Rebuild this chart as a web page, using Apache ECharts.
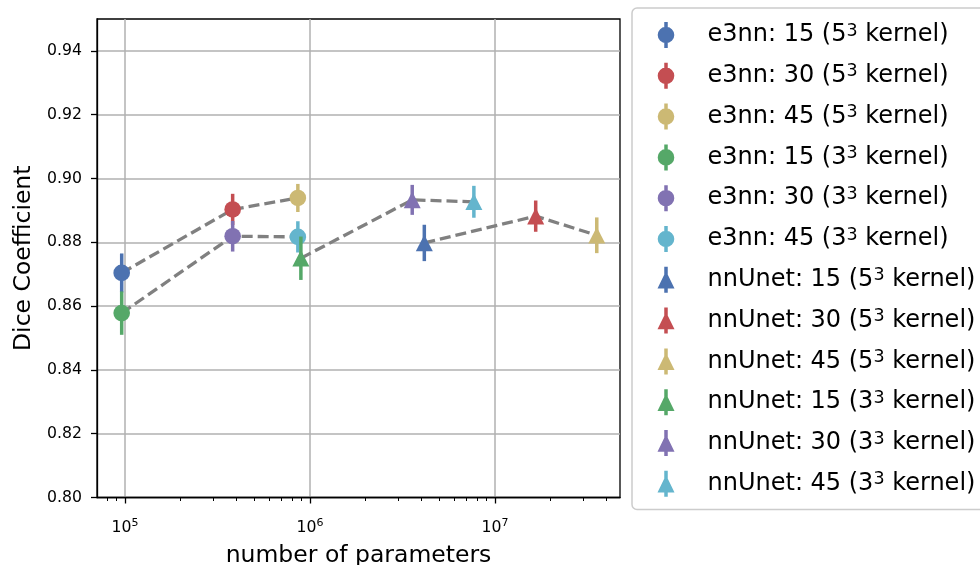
<!DOCTYPE html>
<html>
<head>
<meta charset="utf-8">
<script src="https://cdn.jsdelivr.net/npm/echarts@6/dist/echarts.min.js"></script>
<style>
html,body{margin:0;padding:0;background:#fff;}
#chart{width:980px;height:565px;}
</style>
</head>
<body>
<div id="chart"></div>
<script>
// ---- data ----
const e3nn5Params = [96000, 382000, 860000];
const e3nn5Dice   = [0.8704, 0.8903, 0.8939];
const e3nn5Err    = [0.0061, 0.0049, 0.0044];

const e3nn3Params = [96000, 382000, 860000];
const e3nn3Dice   = [0.8578, 0.8819, 0.8817];
const e3nn3Err    = [0.0068, 0.0048, 0.0049];

const nnUnet5Params = [4150000, 16600000, 35500000];
const nnUnet5Dice   = [0.8798, 0.8882, 0.8822];
const nnUnet5Err    = [0.0057, 0.0049, 0.0056];

const nnUnet3Params = [893000, 3570000, 7690000];
const nnUnet3Dice   = [0.8750, 0.8933, 0.8927];
const nnUnet3Err    = [0.0068, 0.0047, 0.0050];

const seriesNames = [
  'e3nn: 15 (5³ kernel)', 'e3nn: 30 (5³ kernel)', 'e3nn: 45 (5³ kernel)',
  'e3nn: 15 (3³ kernel)', 'e3nn: 30 (3³ kernel)', 'e3nn: 45 (3³ kernel)',
  'nnUnet: 15 (5³ kernel)', 'nnUnet: 30 (5³ kernel)', 'nnUnet: 45 (5³ kernel)',
  'nnUnet: 15 (3³ kernel)', 'nnUnet: 30 (3³ kernel)', 'nnUnet: 45 (3³ kernel)'
];

const yTicks = [0.80, 0.82, 0.84, 0.86, 0.88, 0.90, 0.92, 0.94];
const xMajorTicks = [1e5, 1e6, 1e7];
const xMinorTicks = [8e4, 9e4, 2e5, 3e5, 4e5, 5e5, 6e5, 7e5, 8e5, 9e5,
                     2e6, 3e6, 4e6, 5e6, 6e6, 7e6, 8e6, 9e6, 2e7, 3e7, 4e7];
const xMin = 70600, xMax = 47400000;
const yMin = 0.80, yMax = 0.95;

// ---- styling ----
const palette = ['#4C72B0', '#C44E52', '#CCB974', '#55A868', '#8172B2', '#64B5CD'];
const FONT = '"DejaVu Sans", sans-serif';
const circleIcon = 'path://M10,4.7A8.3,8.3,0,1,1,9.99,4.7ZM8.25,0L11.75,0L11.75,26L8.25,26Z';
const triIcon = 'path://M10,4.3L18.5,21.7L1.5,21.7ZM8.25,0L11.75,0L11.75,26L8.25,26Z';

const groups = [
  {x: e3nn5Params, y: e3nn5Dice, e: e3nn5Err, shape: 'circle', colors: [0, 1, 2], names: [0, 1, 2]},
  {x: e3nn3Params, y: e3nn3Dice, e: e3nn3Err, shape: 'circle', colors: [3, 4, 5], names: [3, 4, 5]},
  {x: nnUnet5Params, y: nnUnet5Dice, e: nnUnet5Err, shape: 'triangle', colors: [0, 1, 2], names: [6, 7, 8]},
  {x: nnUnet3Params, y: nnUnet3Dice, e: nnUnet3Err, shape: 'triangle', colors: [3, 4, 5], names: [9, 10, 11]}
];

function makeRender(shape, color) {
  return function (params, api) {
    const x = api.value(0), y = api.value(1), e = api.value(2);
    const p = api.coord([x, y]);
    const t = api.coord([x, y + e]);
    const b = api.coord([x, y - e]);
    const children = [{
      type: 'line',
      shape: {x1: p[0], y1: t[1], x2: p[0], y2: b[1]},
      style: {stroke: color, lineWidth: 3.5}
    }];
    if (shape === 'circle') {
      children.push({type: 'circle', shape: {cx: p[0], cy: p[1], r: 8.3}, style: {fill: color}});
    } else {
      children.push({type: 'polygon',
        shape: {points: [[p[0], p[1] - 8.3], [p[0] - 8.5, p[1] + 8.3], [p[0] + 8.5, p[1] + 8.3]]},
        style: {fill: color}});
    }
    return {type: 'group', children: children};
  };
}

const series = [];
// dashed connecting lines
groups.forEach(function (g) {
  series.push({
    type: 'line', silent: true, z: 1, symbol: 'none',
    data: g.x.map(function (v, i) { return [v, g.y[i]]; }),
    lineStyle: {color: '#808080', width: 3.3, type: [11, 5]},
    animation: false
  });
});
const legendData = [];
const seriesOrder = [];
groups.forEach(function (g) {
  g.x.forEach(function (v, i) {
    seriesOrder.push({g: g, i: i});
  });
});
seriesOrder.sort(function (a, b) { return a.g.names[a.i] - b.g.names[b.i]; });
seriesOrder.forEach(function (o) {
  const g = o.g, i = o.i;
  const color = palette[g.colors[i]];
  const name = seriesNames[g.names[i]];
  series.push({
    type: 'custom', name: name, z: 3,
    itemStyle: {color: color},
    encode: {x: 0, y: 1},
    renderItem: makeRender(g.shape, color),
    data: [[g.x[i], g.y[i], g.e[i]]],
    animation: false
  });
  legendData.push({name: name, icon: g.shape === 'circle' ? circleIcon : triIcon});
});

function expLabel(v) {
  return '{b|10}{s|' + Math.round(Math.log10(v)) + '}';
}
function legendLabel(name) {
  const parts = name.split('³');
  return '{gap| }{t|' + parts[0] + '}{s|3}{t|' + parts[1] + '}';
}

const chart = echarts.init(document.getElementById('chart'), null, {renderer: 'canvas'});
chart.setOption({
  animation: false,
  backgroundColor: '#fff',
  textStyle: {fontFamily: FONT},
  grid: {left: 97, right: 360, top: 19, bottom: 67.5, show: true,
         outerBoundsMode: 'none', containLabel: false,
         borderColor: '#000', borderWidth: 1.3, backgroundColor: 'transparent'},
  xAxis: [{
    type: 'log', logBase: 10, min: xMin, max: xMax, position: 'bottom',
    axisLine: {show: true, lineStyle: {color: '#000', width: 1.3}},
    axisTick: {show: true, inside: false, length: 6, customValues: xMajorTicks,
               lineStyle: {color: '#000', width: 1.3}},
    axisLabel: {customValues: xMajorTicks, formatter: expLabel, margin: 20,
      rich: {
        b: {fontSize: 15.7, color: '#000', fontFamily: FONT, lineHeight: 20},
        s: {fontSize: 11, color: '#000', fontFamily: FONT, verticalAlign: 'top', lineHeight: 13}
      }},
    splitLine: {show: true, lineStyle: {color: '#b0b0b0', width: 1.5}},
    name: 'number of parameters', nameLocation: 'middle', nameGap: 46,
    nameTextStyle: {fontSize: 23.5, color: '#000', fontFamily: FONT}
  }, {
    type: 'log', logBase: 10, min: xMin, max: xMax, position: 'bottom', gridIndex: 0,
    axisLine: {show: false},
    axisTick: {show: true, inside: false, length: 3.5, customValues: xMinorTicks,
               lineStyle: {color: '#000', width: 1}},
    axisLabel: {show: false},
    splitLine: {show: false}
  }],
  yAxis: {
    type: 'value', min: yMin, max: yMax,
    axisLine: {show: true, lineStyle: {color: '#000', width: 1.3}},
    axisTick: {show: true, inside: false, length: 6, customValues: yTicks,
               lineStyle: {color: '#000', width: 1.3}},
    axisLabel: {customValues: yTicks, formatter: function (v) { return v.toFixed(2); },
                fontSize: 15.7, color: '#000', margin: 15, fontFamily: FONT},
    splitLine: {show: true, lineStyle: {color: '#b0b0b0', width: 1.5}},
    name: 'Dice Coefficient', nameLocation: 'middle', nameGap: 58,
    nameTextStyle: {fontSize: 23.5, color: '#000', fontFamily: FONT}
  },
  legend: {
    orient: 'vertical', left: 632, top: 8,
    padding: [14, 30, 12.7, 25.5],
    itemWidth: 17, itemHeight: 26, itemGap: 14.8,
    selectedMode: false,
    backgroundColor: '#fff', borderColor: '#cccccc', borderWidth: 1.5, borderRadius: 5,
    data: legendData,
    formatter: legendLabel,
    textStyle: {
      fontFamily: FONT,
      rich: {
        gap: {width: 28, fontSize: 24, lineHeight: 26},
        t: {fontSize: 24, color: '#000', fontFamily: FONT, lineHeight: 26},
        s: {fontSize: 17.5, color: '#000', fontFamily: FONT, verticalAlign: 'top', lineHeight: 14}
      }
    }
  },
  series: series
});
</script>
</body>
</html>
